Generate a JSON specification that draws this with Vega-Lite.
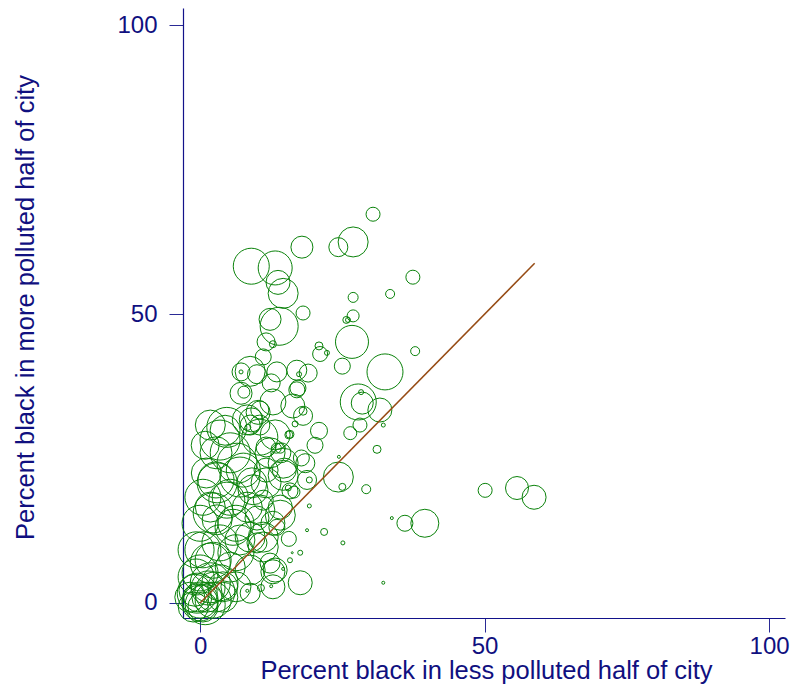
{
  "$schema": "https://vega.github.io/schema/vega-lite/v6.json",
  "autosize": {"type": "none"},
  "width": 602,
  "height": 610,
  "padding": {"left": 183, "top": 8, "right": 5, "bottom": 67},
  "background": "white",
  "config": {
    "view": {"stroke": null},
    "font": "Liberation Sans",
    "axis": {
      "grid": false,
      "domainColor": "#12128a",
      "domainWidth": 1.2,
      "tickColor": "#2a2a95",
      "tickWidth": 1,
      "tickSize": 14,
      "labelColor": "#10107f",
      "labelFont": "Liberation Sans",
      "labelFontSize": 24,
      "titleColor": "#10107f",
      "titleFont": "Liberation Sans",
      "titleFontSize": 25.5,
      "titleFontWeight": "normal"
    }
  },
  "datasets": {
    "cities": [
      {"x": 30.4, "y": 67.3, "pop": 196},
      {"x": 26.9, "y": 62.5, "pop": 900},
      {"x": 24.3, "y": 61.6, "pop": 361},
      {"x": 17.9, "y": 61.6, "pop": 484},
      {"x": 9.0, "y": 58.3, "pop": 1296},
      {"x": 13.2, "y": 58.0, "pop": 1156},
      {"x": 13.7, "y": 55.5, "pop": 576},
      {"x": 14.6, "y": 53.6, "pop": 900},
      {"x": 37.4, "y": 56.4, "pop": 196},
      {"x": 33.4, "y": 53.5, "pop": 81},
      {"x": 26.9, "y": 52.9, "pop": 100},
      {"x": 18.1, "y": 50.2, "pop": 196},
      {"x": 12.3, "y": 49.1, "pop": 484},
      {"x": 13.9, "y": 47.9, "pop": 1444},
      {"x": 26.9, "y": 49.7, "pop": 144},
      {"x": 25.7, "y": 49.0, "pop": 49},
      {"x": 26.0, "y": 49.0, "pop": 25},
      {"x": 11.6, "y": 45.2, "pop": 324},
      {"x": 12.8, "y": 44.8, "pop": 49},
      {"x": 26.7, "y": 45.2, "pop": 1089},
      {"x": 20.9, "y": 44.5, "pop": 64},
      {"x": 21.1, "y": 43.1, "pop": 225},
      {"x": 22.3, "y": 43.3, "pop": 25},
      {"x": 25.0, "y": 41.0, "pop": 256},
      {"x": 32.5, "y": 40.0, "pop": 1296},
      {"x": 37.8, "y": 43.6, "pop": 81},
      {"x": 11.1, "y": 42.6, "pop": 256},
      {"x": 8.8, "y": 40.1, "pop": 900},
      {"x": 7.2, "y": 40.0, "pop": 324},
      {"x": 7.2, "y": 40.0, "pop": 16},
      {"x": 10.0, "y": 39.6, "pop": 361},
      {"x": 13.5, "y": 40.0, "pop": 400},
      {"x": 12.5, "y": 38.1, "pop": 324},
      {"x": 17.0, "y": 40.3, "pop": 400},
      {"x": 17.4, "y": 39.6, "pop": 25},
      {"x": 19.0, "y": 39.8, "pop": 324},
      {"x": 17.0, "y": 36.9, "pop": 256},
      {"x": 7.2, "y": 36.3, "pop": 484},
      {"x": 7.7, "y": 36.5, "pop": 144},
      {"x": 12.8, "y": 34.8, "pop": 676},
      {"x": 16.3, "y": 34.1, "pop": 576},
      {"x": 18.1, "y": 33.2, "pop": 64},
      {"x": 10.2, "y": 33.0, "pop": 576},
      {"x": 27.8, "y": 34.8, "pop": 1296},
      {"x": 28.5, "y": 34.6, "pop": 484},
      {"x": 28.3, "y": 36.5, "pop": 25},
      {"x": 31.6, "y": 33.4, "pop": 576},
      {"x": 28.1, "y": 30.8, "pop": 196},
      {"x": 26.4, "y": 29.4, "pop": 169},
      {"x": 32.2, "y": 30.8, "pop": 16},
      {"x": 31.1, "y": 26.6, "pop": 64},
      {"x": 24.3, "y": 21.8, "pop": 900},
      {"x": 25.0, "y": 20.1, "pop": 49},
      {"x": 24.4, "y": 25.3, "pop": 9},
      {"x": 29.2, "y": 19.7, "pop": 81},
      {"x": 50.1, "y": 19.5, "pop": 196},
      {"x": 55.7, "y": 19.9, "pop": 529},
      {"x": 58.7, "y": 18.3, "pop": 576},
      {"x": 39.5, "y": 13.8, "pop": 784},
      {"x": 36.0, "y": 13.8, "pop": 256},
      {"x": 33.7, "y": 14.7, "pop": 9},
      {"x": 19.2, "y": 16.8, "pop": 16},
      {"x": 21.8, "y": 12.3, "pop": 49},
      {"x": 18.8, "y": 12.6, "pop": 9},
      {"x": 25.1, "y": 10.4, "pop": 16},
      {"x": 17.6, "y": 8.7, "pop": 25},
      {"x": 16.2, "y": 8.7, "pop": 4},
      {"x": 32.2, "y": 3.5, "pop": 9},
      {"x": 15.6, "y": 11.1, "pop": 225},
      {"x": 17.6, "y": 3.5, "pop": 576},
      {"x": 15.8, "y": 7.4, "pop": 25},
      {"x": 18.5, "y": 24.2, "pop": 361},
      {"x": 18.8, "y": 21.3, "pop": 361},
      {"x": 19.2, "y": 21.3, "pop": 36},
      {"x": 20.9, "y": 29.8, "pop": 289},
      {"x": 20.2, "y": 27.3, "pop": 256},
      {"x": 17.2, "y": 37.2, "pop": 256},
      {"x": 18.1, "y": 32.4, "pop": 361},
      {"x": 16.7, "y": 31.0, "pop": 36},
      {"x": 15.6, "y": 29.1, "pop": 64},
      {"x": 15.5, "y": 19.9, "pop": 36},
      {"x": 16.5, "y": 19.2, "pop": 144},
      {"x": 14.8, "y": 23.0, "pop": 576},
      {"x": 14.1, "y": 16.6, "pop": 576},
      {"x": 14.6, "y": 5.9, "pop": 9},
      {"x": 12.5, "y": 2.9, "pop": 9},
      {"x": 10.7, "y": 2.6, "pop": 49},
      {"x": 8.3, "y": 2.1, "pop": 9},
      {"x": 12.8, "y": 5.4, "pop": 576},
      {"x": 14.6, "y": 24.2, "pop": 900},
      {"x": 14.1, "y": 26.8, "pop": 100},
      {"x": 15.8, "y": 19.4, "pop": 256},
      {"x": 10.5, "y": 33.4, "pop": 324},
      {"x": 9.0, "y": 31.7, "pop": 576},
      {"x": 4.4, "y": 29.9, "pop": 900},
      {"x": 8.8, "y": 30.8, "pop": 400},
      {"x": 10.5, "y": 30.8, "pop": 400},
      {"x": 13.2, "y": 29.1, "pop": 900},
      {"x": 15.8, "y": 29.2, "pop": 64},
      {"x": 8.4, "y": 30.4, "pop": 36},
      {"x": 5.3, "y": 26.0, "pop": 1600},
      {"x": 2.8, "y": 26.0, "pop": 1024},
      {"x": 11.6, "y": 27.0, "pop": 400},
      {"x": 13.4, "y": 26.8, "pop": 100},
      {"x": 14.2, "y": 26.0, "pop": 400},
      {"x": 17.8, "y": 25.1, "pop": 256},
      {"x": 1.1, "y": 22.5, "pop": 900},
      {"x": 7.6, "y": 23.0, "pop": 1156},
      {"x": 11.6, "y": 23.0, "pop": 576},
      {"x": 8.3, "y": 31.7, "pop": 900},
      {"x": 10.5, "y": 28.7, "pop": 1296},
      {"x": 4.7, "y": 30.4, "pop": 1600},
      {"x": 3.5, "y": 28.2, "pop": 1600},
      {"x": 6.5, "y": 24.2, "pop": 1600},
      {"x": 3.0, "y": 20.8, "pop": 1600},
      {"x": 4.7, "y": 17.8, "pop": 1296},
      {"x": 1.8, "y": 16.6, "pop": 900},
      {"x": 0.0, "y": 13.8, "pop": 1296},
      {"x": 3.0, "y": 14.4, "pop": 900},
      {"x": 5.8, "y": 13.1, "pop": 1296},
      {"x": 7.0, "y": 10.9, "pop": 900},
      {"x": 3.5, "y": 10.4, "pop": 1296},
      {"x": 0.5, "y": 9.2, "pop": 1296},
      {"x": 2.3, "y": 7.4, "pop": 1296},
      {"x": 5.3, "y": 6.2, "pop": 900},
      {"x": 0.0, "y": 5.2, "pop": 1296},
      {"x": 1.8, "y": 3.5, "pop": 1600},
      {"x": -0.5, "y": 1.7, "pop": 1600},
      {"x": 0.0, "y": 0.5, "pop": 1296},
      {"x": 4.0, "y": 2.8, "pop": 900},
      {"x": -1.2, "y": -0.7, "pop": 900},
      {"x": 1.2, "y": 1.0, "pop": 900},
      {"x": 12.3, "y": 26.0, "pop": 900},
      {"x": 9.1, "y": 20.8, "pop": 900},
      {"x": 11.1, "y": 17.8, "pop": 400},
      {"x": 8.3, "y": 16.6, "pop": 900},
      {"x": 10.0, "y": 14.7, "pop": 576},
      {"x": 14.1, "y": 15.2, "pop": 900},
      {"x": 13.5, "y": 13.1, "pop": 256},
      {"x": 11.1, "y": 11.4, "pop": 900},
      {"x": 10.0, "y": 10.4, "pop": 400},
      {"x": 7.0, "y": 21.8, "pop": 1600},
      {"x": 2.8, "y": 21.3, "pop": 1296},
      {"x": 0.5, "y": 18.3, "pop": 1296},
      {"x": 5.3, "y": 18.3, "pop": 1296},
      {"x": 2.3, "y": 15.6, "pop": 1600},
      {"x": 6.3, "y": 13.8, "pop": 1296},
      {"x": 8.8, "y": 11.4, "pop": 900},
      {"x": -0.7, "y": 9.2, "pop": 1296},
      {"x": 6.3, "y": 8.7, "pop": 1296},
      {"x": 1.8, "y": 6.9, "pop": 1600},
      {"x": 8.8, "y": 5.7, "pop": 900},
      {"x": -0.7, "y": 4.5, "pop": 1296},
      {"x": 3.5, "y": 3.5, "pop": 1296},
      {"x": 6.3, "y": 2.8, "pop": 900},
      {"x": 2.3, "y": 0.5, "pop": 1296},
      {"x": 0.5, "y": -0.7, "pop": 900},
      {"x": -1.8, "y": 1.0, "pop": 900},
      {"x": 4.0, "y": 1.0, "pop": 900},
      {"x": 9.3, "y": 19.6, "pop": 900},
      {"x": 11.6, "y": 20.8, "pop": 900},
      {"x": 14.6, "y": 22.1, "pop": 900},
      {"x": 10.5, "y": 16.1, "pop": 900},
      {"x": 12.8, "y": 13.8, "pop": 576},
      {"x": 11.1, "y": 9.7, "pop": 900},
      {"x": 12.3, "y": 6.9, "pop": 400},
      {"x": 13.2, "y": 5.7, "pop": 576},
      {"x": 12.8, "y": 2.8, "pop": 576},
      {"x": 8.8, "y": 1.7, "pop": 400},
      {"x": 0.9, "y": -0.3, "pop": 1600},
      {"x": 0.0, "y": 0.0, "pop": 1296},
      {"x": -0.4, "y": 0.9, "pop": 784},
      {"x": 2.6, "y": 1.9, "pop": 1600},
      {"x": 1.4, "y": 2.6, "pop": 1156},
      {"x": -0.9, "y": 2.2, "pop": 1024},
      {"x": 1.8, "y": 30.8, "pop": 900},
      {"x": 0.9, "y": 27.3, "pop": 784}
    ],
    "fit": [
      {"x": 0, "y": 0},
      {"x": 58.8, "y": 58.8}
    ]
  },
  "layer": [
    {
      "data": {"name": "cities"},
      "mark": {"type": "point", "shape": "circle", "filled": false, "color": "#0a820a", "strokeWidth": 1, "opacity": 1},
      "encoding": {
        "x": {
          "field": "x", "type": "quantitative",
          "scale": {"domain": [-3, 102.8], "nice": false, "zero": false},
          "axis": {
            "values": [0, 50, 100],
            "labelPadding": 2,
            "title": "Percent black in less polluted half of city",
            "titleX": 303,
            "titleY": 60,
            "titleBaseline": "alphabetic",
            "titleAlign": "center"
          }
        },
        "y": {
          "field": "y", "type": "quantitative",
          "scale": {"domain": [-2.6, 103], "nice": false, "zero": false},
          "axis": {
            "values": [0, 50, 100],
            "labelPadding": 12,
            "title": "Percent black in more polluted half of city",
            "titleX": -150,
            "titleY": 299,
            "titleAngle": -90,
            "titleBaseline": "alphabetic",
            "titleAlign": "center"
          }
        },
        "size": {
          "field": "pop", "type": "quantitative",
          "scale": {"type": "linear", "domain": [0, 1600], "range": [0, 1600], "zero": true},
          "legend": null
        }
      }
    },
    {
      "data": {"name": "fit"},
      "mark": {"type": "line", "color": "#964b14", "strokeWidth": 1.5},
      "encoding": {
        "x": {"field": "x", "type": "quantitative"},
        "y": {"field": "y", "type": "quantitative"}
      }
    }
  ]
}
